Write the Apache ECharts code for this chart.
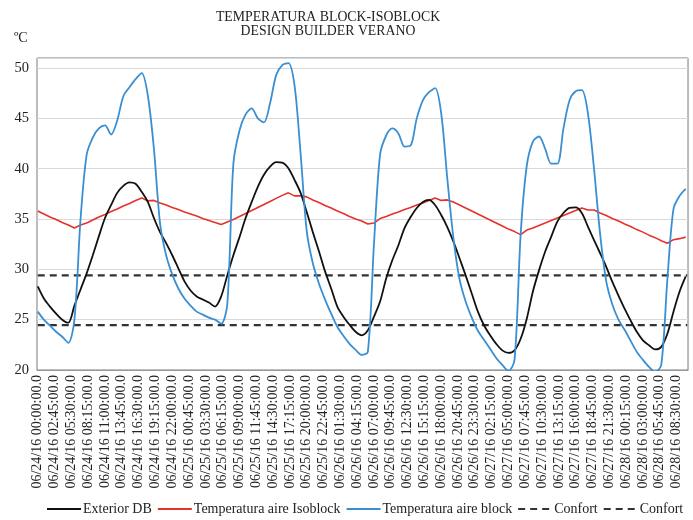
<!DOCTYPE html>
<html><head><meta charset="utf-8">
<script src="https://cdn.jsdelivr.net/npm/echarts@6/dist/echarts.min.js"></script>
<style>html,body{margin:0;padding:0;background:#fff}#c{width:693px;height:520px}</style>
</head><body><div id="c"></div><script>
// 15-minute categories starting 06/24/16 00:00
const nCategories = 426;
const stepsPerHour = 4;
// hourly readings (h = 0 .. 106)
const exteriorDB = [28.3,27.1,26.3,25.6,25.0,24.7,26.4,28.0,29.6,31.4,33.3,35.1,36.4,37.6,38.3,38.65,38.5,37.7,36.7,35.1,33.7,32.6,31.4,30.1,28.8,27.9,27.3,27.0,26.7,26.3,27.3,29.4,31.4,33.2,35.1,36.7,38.2,39.4,40.2,40.65,40.6,40.05,38.9,37.6,35.7,33.7,31.8,29.8,28.1,26.3,25.3,24.5,23.8,23.45,23.95,25.3,26.8,29.1,30.9,32.4,34.1,35.2,36.1,36.7,36.9,36.4,35.4,34.2,32.75,31.1,29.4,27.6,25.8,24.45,23.45,22.6,21.95,21.7,21.95,23.1,25.1,27.8,29.9,31.75,33.25,34.75,35.6,36.1,36.15,35.6,34.25,32.9,31.6,30.25,28.75,27.4,26.1,24.9,23.8,22.95,22.45,22.05,22.3,23.6,25.8,27.8,29.3];
const aireIsoblock = [35.8,35.5,35.2,34.95,34.65,34.4,34.1,34.4,34.6,34.9,35.2,35.45,35.75,36.0,36.3,36.55,36.85,37.1,36.8,36.85,36.6,36.4,36.15,35.95,35.7,35.5,35.3,35.05,34.85,34.65,34.45,34.7,34.95,35.25,35.55,35.85,36.15,36.45,36.75,37.05,37.35,37.6,37.3,37.3,37.2,36.9,36.65,36.35,36.1,35.8,35.55,35.25,35.0,34.8,34.5,34.6,35.05,35.25,35.5,35.7,35.95,36.15,36.4,36.6,36.85,37.1,36.85,36.9,36.7,36.4,36.1,35.8,35.5,35.2,34.9,34.6,34.3,34.0,33.75,33.45,33.9,34.1,34.35,34.6,34.85,35.1,35.35,35.6,35.85,36.1,35.9,35.9,35.6,35.35,35.05,34.8,34.5,34.25,33.95,33.7,33.4,33.15,32.85,32.6,32.95,33.05,33.2];
const aireBlock = [25.8,25.0,24.4,23.8,23.3,22.7,25.0,35.0,41.4,43.1,44.0,44.3,43.4,44.8,47.2,48.1,48.9,49.5,47.3,42.0,34.6,31.4,29.5,28.1,27.1,26.4,25.8,25.5,25.2,25.0,24.6,26.5,40.5,43.8,45.4,46.0,45.0,44.6,46.5,49.3,50.3,50.5,48.3,41.5,33.8,30.6,28.6,27.0,25.6,24.3,23.4,22.6,22.0,21.5,21.8,32.5,41.4,43.3,44.0,43.5,42.2,42.3,45.0,46.8,47.6,48.0,45.5,39.0,33.1,29.0,26.8,25.2,23.9,23.0,22.1,21.2,20.5,19.9,21.0,33.5,40.3,42.7,43.2,42.0,40.5,40.5,44.0,46.8,47.7,47.8,45.5,40.0,33.5,28.8,26.5,25.0,24.0,22.9,21.8,21.0,20.3,19.8,20.5,29.0,36.0,37.3,38.0];
const confortHigh = 29.4;
const confortLow = 24.45;
const yMin = 20, yMax = 51, yStep = 5;

const pad = n => String(n).padStart(2, '0');
const categories = [];
for (let i = 0; i < nCategories; i++) {
  const m = i * 15;
  const day = 24 + Math.floor(m / 1440);
  const hh = Math.floor((m % 1440) / 60), mm = m % 60;
  categories.push('06/' + day + '/16 ' + pad(hh) + ':' + pad(mm) + ':00.0');
}
const hourly = arr => arr.map((v, h) => [h * stepsPerHour, v]);
const flat = v => [[0, v], [nCategories - 1, v]];
const serif = 'Liberation Serif';

const chart = echarts.init(document.getElementById('c'), null, {renderer: 'canvas'});
chart.setOption({
  animation: false,
  backgroundColor: '#fff',
  title: {
    text: 'TEMPERATURA BLOCK-ISOBLOCK\nDESIGN BUILDER VERANO',
    left: 328, top: 10, padding: 0, textAlign: 'center',
    textStyle: {fontFamily: serif, fontSize: 13.8, fontWeight: 'normal', color: '#222', lineHeight: 14.5}
  },
  graphic: [{type: 'text', left: 14, top: 31, style: {text: 'ºC', font: '14px "Liberation Serif"', fill: '#222'}}],
  grid: {left: 37, right: 5, top: 58, bottom: 150, show: true, borderColor: '#7a7a7a', borderWidth: 1},
  legend: {
    left: 46, top: 502, padding: 0, itemWidth: 34, itemHeight: 12, itemGap: 5,
    formatter: n => n.trim(),
    itemStyle: {opacity: 0},
    textStyle: {fontFamily: serif, fontSize: 14, color: '#222', padding: [0, 0, 0, -3]},
    data: ['Exterior DB', 'Temperatura aire Isoblock', 'Temperatura aire block', 'Confort', 'Confort ']
  },
  xAxis: {
    type: 'category', data: categories, boundaryGap: true,
    axisLine: {lineStyle: {color: '#999'}},
    axisTick: {interval: 1, length: 3, lineStyle: {color: '#aaa'}},
    axisLabel: {interval: 10, rotate: 90, margin: 5, fontFamily: serif, fontSize: 14, color: '#222'},
    splitLine: {show: false}
  },
  yAxis: {
    type: 'value', min: yMin, max: yMax, interval: yStep,
    axisLine: {show: false}, axisTick: {show: false},
    axisLabel: {formatter: v => (v % yStep === 0 ? String(v) : ''), margin: 8, fontFamily: serif, fontSize: 14.5, color: '#222'},
    splitLine: {lineStyle: {color: '#d9d9d9', width: 1}}
  },
  series: [
    {name: 'Exterior DB', type: 'line', data: hourly(exteriorDB), symbol: 'none', smooth: 0.3,
     lineStyle: {color: '#111', width: 1.8}, itemStyle: {color: '#111'}, z: 3},
    {name: 'Temperatura aire Isoblock', type: 'line', data: hourly(aireIsoblock), symbol: 'none',
     lineStyle: {color: '#e3332b', width: 1.6}, itemStyle: {color: '#e3332b'}, z: 2},
    {name: 'Temperatura aire block', type: 'line', data: hourly(aireBlock), symbol: 'none', smooth: 0.3,
     lineStyle: {color: '#3a8fd2', width: 1.8}, itemStyle: {color: '#3a8fd2'}, z: 4},
    {name: 'Confort', type: 'line', data: flat(confortHigh), symbol: 'none',
     lineStyle: {color: '#333', width: 2.2, type: [7, 5]}, itemStyle: {color: '#333'}, z: 1},
    {name: 'Confort ', type: 'line', data: flat(confortLow), symbol: 'none',
     lineStyle: {color: '#333', width: 2.2, type: [7, 5]}, itemStyle: {color: '#333'}, z: 1}
  ]
});
</script></body></html>
